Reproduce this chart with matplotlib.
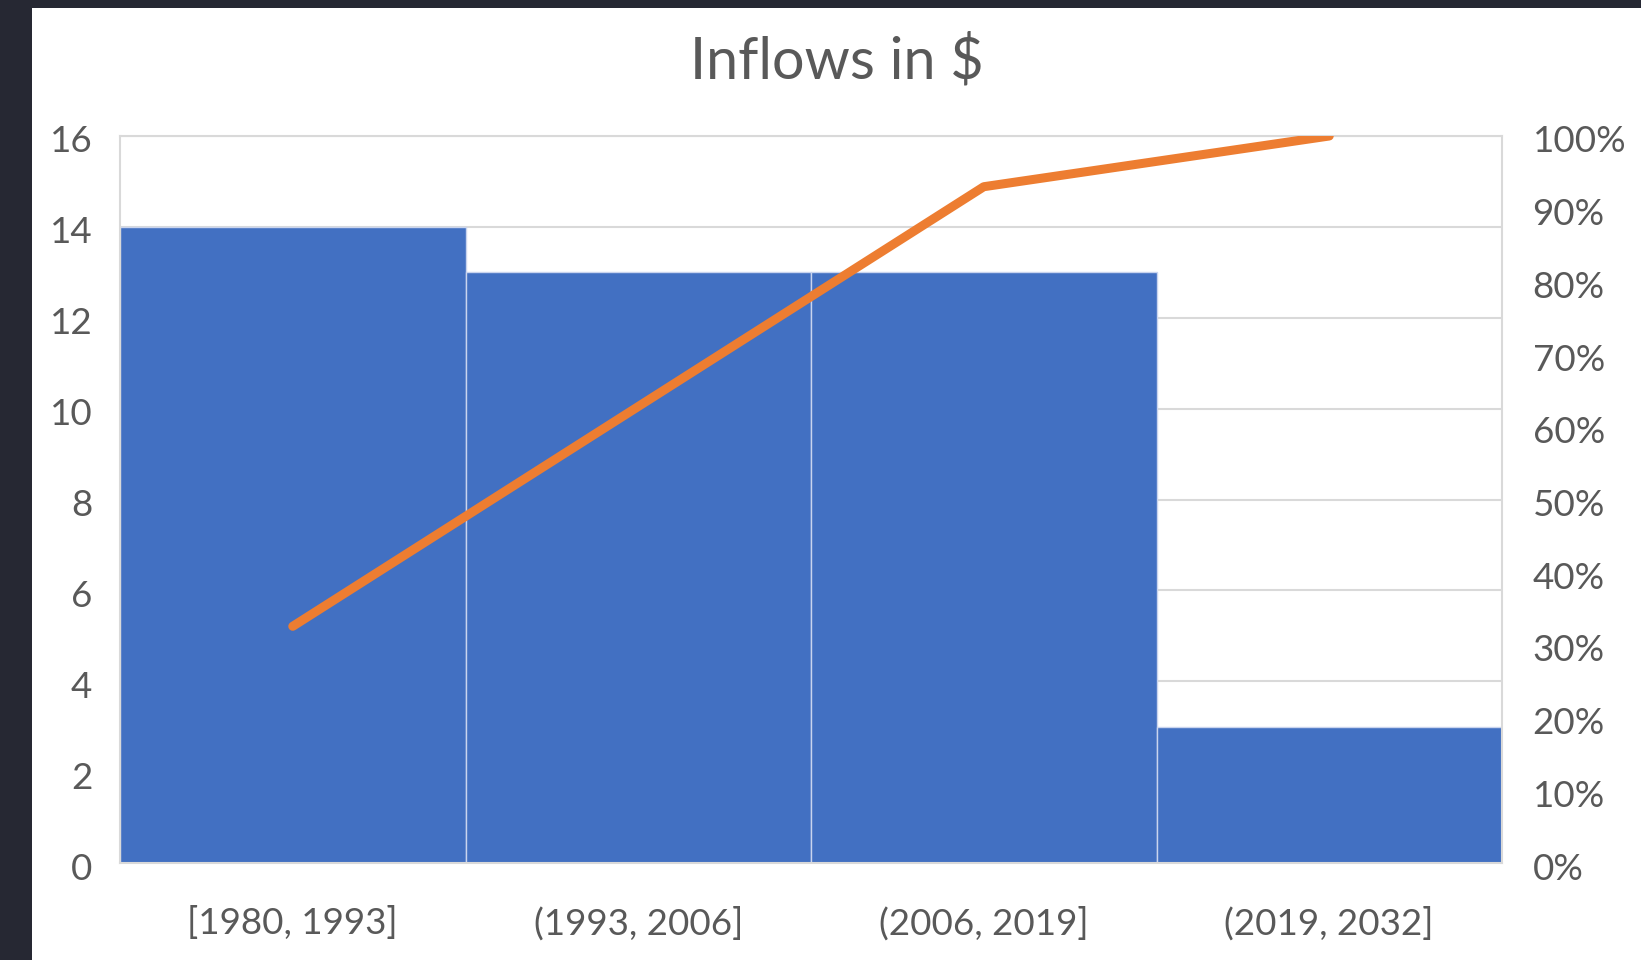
import numpy as np
import matplotlib.pyplot as plt
import matplotlib.transforms as mtransforms
from matplotlib.patches import Rectangle
from matplotlib.ticker import PercentFormatter

# histogram bins and counts
bins = ["[1980, 1993]", "(1993, 2006]", "(2006, 2019]", "(2019, 2032]"]
counts = [14, 13, 13, 3]
cum_share = np.cumsum(counts) / np.sum(counts)

bar_color = "#4270C2"
line_color = "#ED7D31"
text_color = "#595959"
grid_color = "#D9D9D9"

plt.rcParams['font.family'] = ['Lato', 'DejaVu Sans']

fig = plt.figure(figsize=(16.41, 9.6), dpi=100, facecolor="#262833")
# white chart card on the dark background
fig.patches.append(Rectangle((32 / 1641, 0), 1, 1 - 8 / 960, transform=fig.transFigure,
                             facecolor="white", edgecolor="none", zorder=-10))

ax = fig.add_axes([120 / 1641, 1 - 863 / 960, (1502 - 120) / 1641, (863 - 136) / 960])
ax.set_facecolor("white")
x = np.arange(len(bins))
ax.bar(x, counts, width=1.0, color=bar_color, edgecolor="#C9D4EE", linewidth=1.0, zorder=2)
ax.set_xlim(-0.5, len(bins) - 0.5)
ax.set_ylim(0, 16)
ax.set_yticks(np.arange(0, 17, 2))
ax.set_xticks(x)
ax.set_xticklabels(bins)
ax.grid(axis='y', color=grid_color, linewidth=1.5, zorder=1)
ax.set_axisbelow(True)
for s in ax.spines.values():
    s.set_color(grid_color)
    s.set_linewidth(1.5)
ax.tick_params(axis='both', length=0, labelsize=26.5, colors=text_color)
ax.tick_params(axis='y', pad=20)
ax.tick_params(axis='x', pad=31)

ax2 = ax.twinx()
ax2.plot(x, cum_share, color=line_color, linewidth=6.5, solid_capstyle='round',
         solid_joinstyle='round', zorder=3)
ax2.set_ylim(0, 1)
ax2.set_yticks(np.arange(0, 1.01, 0.1))
ax2.yaxis.set_major_formatter(PercentFormatter(1.0, decimals=0))
ax2.tick_params(axis='y', length=0, labelsize=26.5, colors=text_color, pad=22)
for s in ax2.spines.values():
    s.set_visible(False)

# Excel sits the value labels a touch below their gridlines
shift = mtransforms.ScaledTranslation(0, -3 / 100, fig.dpi_scale_trans)
for lab in ax.get_yticklabels() + ax2.get_yticklabels():
    lab.set_transform(lab.get_transform() + shift)

fig.text((32 + 1641) / 2 / 1641, 1 - 61 / 960, "Inflows in $", ha='center', va='center',
         fontsize=41.5, color=text_color)

fig.savefig("out.png", dpi=100, facecolor=fig.get_facecolor())
